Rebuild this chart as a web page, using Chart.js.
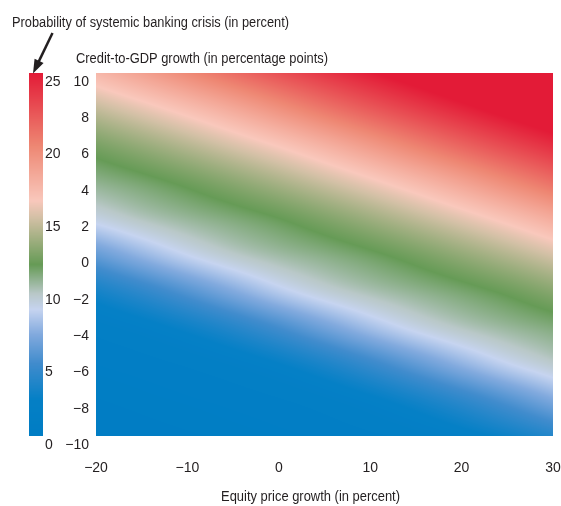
<!DOCTYPE html>
<html><head><meta charset="utf-8">
<script src="https://cdn.jsdelivr.net/npm/chart.js@4"></script>
<style>html,body{margin:0;padding:0;background:#fff}</style>
</head><body>
<canvas id="c" width="561" height="506"></canvas>
<script>
// ---- data ----
const equityGrowth = [-20, -15, -10, -5, 0, 5, 10, 15, 20, 25, 30];   // x nodes, percent
const creditGrowth = [-10, -8, -6, -4, -2, 0, 2, 4, 6, 8, 10];         // y nodes, pp
// probability of systemic banking crisis (percent), one row per credit growth value
const probCreditM10 = [0.23, 0.29, 0.37, 0.48, 0.62, 0.82, 1.10, 1.49, 2.05, 2.81, 3.80];
const probCreditM8  = [0.40, 0.53, 0.69, 0.91, 1.20, 1.65, 2.29, 3.15, 4.23, 5.51, 6.91];
const probCreditM6  = [0.76, 1.01, 1.36, 1.85, 2.53, 3.48, 4.67, 6.01, 7.39, 8.66, 9.68];
const probCreditM4  = [1.52, 2.09, 2.87, 3.87, 5.10, 6.50, 7.87, 9.04, 9.93, 10.59, 11.15];
const probCreditM2  = [3.20, 4.30, 5.60, 6.99, 8.35, 9.41, 10.18, 10.79, 11.37, 12.03, 12.84];
const probCredit0   = [6.09, 7.47, 8.73, 9.72, 10.43, 10.98, 11.58, 12.31, 13.16, 14.10, 15.13];
const probCredit2   = [9.10, 9.97, 10.63, 11.19, 11.80, 12.59, 13.48, 14.46, 15.52, 16.66, 17.91];
const probCredit4   = [10.82, 11.40, 12.08, 12.89, 13.80, 14.82, 15.91, 17.10, 18.39, 19.76, 21.14];
const probCredit6   = [12.36, 13.21, 14.16, 15.20, 16.30, 17.53, 18.87, 20.25, 21.60, 22.89, 24.11];
const probCredit8   = [14.52, 15.59, 16.74, 17.99, 19.35, 20.74, 22.07, 23.33, 24.51, 25.60, 26.61];
const probCredit10  = [17.17, 18.47, 19.84, 21.21, 22.53, 23.76, 24.90, 25.96, 26.92, 27.79, 28.60];
const probRows = [probCreditM10, probCreditM8, probCreditM6, probCreditM4, probCreditM2,
                  probCredit0, probCredit2, probCredit4, probCredit6, probCredit8, probCredit10];
const xTickRange = [-20, 30], xTickStep = 10;
const yTickRange = [-10, 10], yTickStep = 2;
const cbTickRange = [0, 25], cbTickStep = 5;

// ---- colour scale ----
const cmapStops  = [0, 2.5, 5, 7, 8.7, 9.8, 11.8, 15.0, 16.2, 20, 25];
const cmapColors = ['#007dc4', '#0580c6', '#418ccd', '#82aade', '#c6d4f0', '#b9c8c8',
                    '#669b56', '#d2c0a5', '#f9c8bc', '#ee8773', '#e31b37'];
const cmapRGB = cmapColors.map(h => [1,3,5].map(i => parseInt(h.substr(i,2),16)));
function colorFor(v) {
  if (v <= cmapStops[0]) return cmapRGB[0];
  const n = cmapStops.length;
  if (v >= cmapStops[n-1]) return cmapRGB[n-1];
  let k = 0; while (v > cmapStops[k+1]) k++;
  const t = (v - cmapStops[k]) / (cmapStops[k+1] - cmapStops[k]);
  const a = cmapRGB[k], b = cmapRGB[k+1];
  return [a[0]+(b[0]-a[0])*t, a[1]+(b[1]-a[1])*t, a[2]+(b[2]-a[2])*t];
}
// smooth (Catmull-Rom) shading between the grid nodes
function locate(arr, v) {
  let i = 0; while (i < arr.length - 2 && v > arr[i+1]) i++;
  const t = (v - arr[i]) / (arr[i+1] - arr[i]);
  return [i, Math.max(0, Math.min(1, t))];
}
function node(arr, k) {
  const n = arr.length;
  if (k < 0) return 2*arr[0] - arr[1];
  if (k >= n) return 2*arr[n-1] - arr[n-2];
  return arr[k];
}
function cr(p0, p1, p2, p3, t) {
  const t2 = t*t, t3 = t2*t;
  return 0.5*((2*p1) + (-p0+p2)*t + (2*p0-5*p1+4*p2-p3)*t2 + (-p0+3*p1-3*p2+p3)*t3);
}
function rowAt(row, i, tx) { return cr(node(row,i-1), node(row,i), node(row,i+1), node(row,i+2), tx); }
function sample(xv, yv) {
  const [i, tx] = locate(equityGrowth, xv);
  const [j, ty] = locate(creditGrowth, yv);
  const n = probRows.length, cols = [];
  for (let k = j-1; k <= j+2; k++) {
    let v;
    if (k < 0) v = 2*rowAt(probRows[0], i, tx) - rowAt(probRows[1], i, tx);
    else if (k >= n) v = 2*rowAt(probRows[n-1], i, tx) - rowAt(probRows[n-2], i, tx);
    else v = rowAt(probRows[k], i, tx);
    cols.push(v);
  }
  return cr(cols[0], cols[1], cols[2], cols[3], ty);
}

const TXT = '#231f20';
const FONT = '"Liberation Sans", Arial, sans-serif';
const fmt = v => (v < 0 ? '\u2212' + Math.abs(v) : String(v));

const heatmapPlugin = {
  id: 'heatmap',
  beforeDatasetsDraw(chart) {
    const {ctx, chartArea: a, scales: {x, y, cb}} = chart;
    const L = Math.round(a.left), T = Math.round(a.top);
    const w = Math.round(a.right) - L, h = Math.round(a.bottom) - T;
    const off = document.createElement('canvas'); off.width = w; off.height = h;
    const octx = off.getContext('2d'); const img = octx.createImageData(w, h);
    for (let j = 0; j < h; j++) {
      const yv = y.getValueForPixel(T + j + 0.5);
      for (let i = 0; i < w; i++) {
        const xv = x.getValueForPixel(L + i + 0.5);
        const c = colorFor(sample(xv, yv));
        const p = (j*w + i)*4;
        img.data[p] = c[0]; img.data[p+1] = c[1]; img.data[p+2] = c[2]; img.data[p+3] = 255;
      }
    }
    octx.putImageData(img, 0, 0);
    ctx.drawImage(off, L, T);
    // colour bar, through the colour-bar scale
    const top = Math.round(cb.top), bot = Math.round(cb.bottom);
    for (let py = top; py < bot; py++) {
      const c = colorFor(cb.getValueForPixel(py + 0.5));
      ctx.fillStyle = `rgb(${c[0]|0},${c[1]|0},${c[2]|0})`;
      ctx.fillRect(29, py, 14, 1);
    }
  },
  afterDraw(chart) {
    const ctx = chart.ctx;
    function fitText(s, x, base, width, size) {
      ctx.save();
      ctx.font = size + 'px ' + FONT;
      ctx.fillStyle = TXT; ctx.textBaseline = 'alphabetic'; ctx.textAlign = 'left';
      const m = ctx.measureText(s).width;
      ctx.translate(x, base); ctx.scale(width / m, 1);
      ctx.fillText(s, 0, 0);
      ctx.restore();
    }
    fitText('Probability of systemic banking crisis (in percent)', 12, 27, 277, 15.5);
    fitText('Credit-to-GDP growth (in percentage points)', 76, 62.5, 252, 15.5);
    fitText('Equity price growth (in percent)', 221, 501, 179, 15.5);
    // arrow
    const x0 = 52.5, y0 = 33, x1 = 33, y1 = 73.5;
    const dx = x1 - x0, dy = y1 - y0, len = Math.hypot(dx, dy), ux = dx/len, uy = dy/len;
    const hl = 14, hw = 5;
    ctx.save();
    ctx.strokeStyle = TXT; ctx.fillStyle = TXT; ctx.lineWidth = 2.5;
    ctx.beginPath(); ctx.moveTo(x0, y0); ctx.lineTo(x1 - ux*hl*0.8, y1 - uy*hl*0.8); ctx.stroke();
    ctx.beginPath();
    ctx.moveTo(x1, y1);
    ctx.lineTo(x1 - ux*hl - uy*hw, y1 - uy*hl + ux*hw);
    ctx.lineTo(x1 - ux*hl + uy*hw, y1 - uy*hl - ux*hw);
    ctx.closePath(); ctx.fill();
    ctx.restore();
  }
};

const gridPoints = [];
creditGrowth.forEach((yv, j) => equityGrowth.forEach((xv, i) => gridPoints.push({x: xv, y: yv, v: probRows[j][i]})));

const tickFont = {family: FONT, size: 14};
new Chart(document.getElementById('c'), {
  type: 'scatter',
  data: {datasets: [{label: 'Probability', data: gridPoints, pointRadius: 0, pointHoverRadius: 0, showLine: false}]},
  options: {
    responsive: false, animation: false,
    events: [],
    layout: {padding: {left: 45, right: 8, top: 73, bottom: 30}},
    plugins: {legend: {display: false}, tooltip: {enabled: false}, title: {display: false}},
    scales: {
      x: {type: 'linear', min: xTickRange[0], max: xTickRange[1],
          ticks: {stepSize: xTickStep, padding: 24, color: TXT, font: tickFont, callback: fmt, maxRotation: 0},
          grid: {display: false, drawTicks: false}, border: {display: false},
          afterFit(s) { s.height = 40; s.paddingLeft = 0; s.paddingRight = 0; }},
      y: {type: 'linear', position: 'left', weight: 0, min: yTickRange[0], max: yTickRange[1],
          ticks: {stepSize: yTickStep, padding: 7, labelOffset: 9, color: TXT, font: tickFont, callback: fmt},
          grid: {display: false, drawTicks: false}, border: {display: false},
          afterFit(s) { s.width = 34; }},
      cb: {type: 'linear', position: 'left', weight: 1, min: cbTickRange[0], max: cbTickRange[1],
           ticks: {stepSize: cbTickStep, padding: 0, crossAlign: 'far', labelOffset: 9, color: TXT, font: tickFont, callback: fmt},
           grid: {display: false, drawTicks: false}, border: {display: false},
           afterFit(s) { s.width = 17; }}
    }
  },
  plugins: [heatmapPlugin]
});
</script>
</body></html>
